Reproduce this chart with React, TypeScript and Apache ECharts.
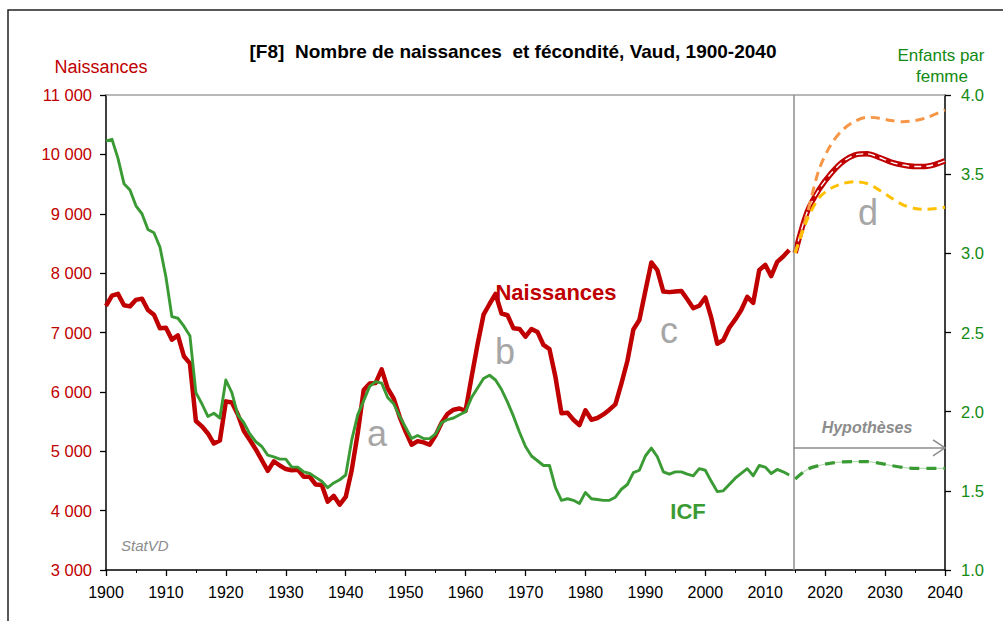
import React, { useEffect, useRef } from "react";
import * as echarts from "echarts";

const FIRST_YEAR = 1900;

// Naissances, Vaud, 1900-2014 (one value per year)
const births = [
  7450, 7620, 7650, 7460, 7440, 7550, 7570, 7380, 7300, 7070,
  7080, 6880, 6950, 6600, 6480, 5510, 5420, 5300, 5130, 5180,
  5840, 5820, 5620, 5340, 5190, 5030, 4850, 4670, 4830, 4760,
  4700, 4680, 4690, 4570, 4570, 4440, 4430, 4150, 4250, 4100,
  4230, 4680, 5300, 6030, 6140, 6150, 6380, 6060, 5890, 5580,
  5330, 5110, 5170, 5150, 5110, 5270, 5480, 5630, 5700, 5720,
  5680, 6250, 6800, 7300, 7480, 7650, 7320, 7290, 7070, 7060,
  6930, 7060, 7010, 6790, 6720, 6250, 5640, 5650, 5530, 5440,
  5690, 5530, 5560, 5620, 5700, 5790, 6140, 6520, 7050, 7210,
  7700, 8180, 8050, 7690, 7680, 7690, 7700, 7560, 7410, 7450,
  7590, 7250, 6810, 6870, 7080, 7220, 7380, 7600, 7500, 8050,
  8140, 7950, 8190, 8280, 8390,
];

// Indicateur conjoncturel de fécondité (enfants par femme), 1900-2014
const icf = [
  3.71, 3.72, 3.6, 3.44, 3.4, 3.3, 3.25, 3.15, 3.13, 3.04,
  2.85, 2.6, 2.59, 2.54, 2.48, 2.12, 2.05, 1.97, 1.99, 1.96,
  2.2, 2.12, 1.98, 1.93, 1.86, 1.81, 1.78, 1.725, 1.715, 1.7,
  1.7, 1.65, 1.65, 1.62, 1.61, 1.585, 1.56, 1.52, 1.55, 1.57,
  1.6, 1.82, 1.98, 2.07, 2.16, 2.19, 2.18, 2.09, 2.05, 1.97,
  1.9, 1.83, 1.85, 1.83, 1.83, 1.86, 1.93, 1.95, 1.96, 1.98,
  2.0, 2.09, 2.15, 2.21, 2.23, 2.2, 2.14, 2.06, 1.97, 1.87,
  1.78, 1.72, 1.69, 1.66, 1.66, 1.52, 1.44, 1.45, 1.44, 1.42,
  1.49, 1.45, 1.445, 1.44, 1.44, 1.46, 1.51, 1.54, 1.615, 1.63,
  1.72, 1.77, 1.715, 1.62, 1.605, 1.62, 1.62, 1.605, 1.595, 1.64,
  1.63, 1.56, 1.495, 1.5, 1.54, 1.58, 1.61, 1.64, 1.595, 1.66,
  1.65, 1.61, 1.635, 1.62, 1.6,
];

// Hypothèses 2015-2040
const projYears = [2015, 2017, 2019, 2021, 2023, 2025, 2027, 2029, 2031, 2033, 2035, 2037, 2040];
const birthsMid = [8340, 9030, 9410, 9680, 9880, 9990, 10010, 9950, 9870, 9820, 9795, 9800, 9890];
const birthsHigh = [8340, 9000, 9750, 10170, 10420, 10560, 10625, 10610, 10570, 10550, 10570, 10620, 10750];
const birthsLow = [8340, 8900, 9270, 9430, 9510, 9540, 9510, 9400, 9270, 9150, 9090, 9075, 9110];
const icfProj = [1.575, 1.635, 1.66, 1.675, 1.683, 1.685, 1.685, 1.675, 1.66, 1.648, 1.642, 1.642, 1.642];

const HYP_START = 2014.7;
const HYP_ARROW_LEVEL = 1.772;

const RED = "#C00000";
const GREEN_LINE = "#3A9A34";
const GREEN_TEXT = "#138A13";
const GREY_TEXT = "#A6A6A6";
const FONT = "'Liberation Sans', Arial, Helvetica, sans-serif";

const pairs = (xs: number[], ys: number[]) => ys.map((v, i) => [xs[i], v]);
const histPairs = (ys: number[]) => ys.map((v, i) => [FIRST_YEAR + i, v]);

const fmtThousands = (v: number) => String(v).replace(/\B(?=(\d{3})+(?!\d))/g, " ");

export default function App() {
  const ref = useRef<HTMLDivElement>(null);

  useEffect(() => {
    if (!ref.current) return;
    const chart = echarts.init(ref.current, undefined, { renderer: "svg" });

    const option: any = {
      animation: false,
      backgroundColor: "#ffffff",
      textStyle: { fontFamily: FONT },
      grid: { left: 106, right: 58, top: 95, bottom: 51, containLabel: false },
      xAxis: {
        type: "value",
        min: 1900,
        max: 2040,
        interval: 10,
        axisLine: { show: true, lineStyle: { color: "#000", width: 1.5 } },
        axisTick: { show: true, length: 6, lineStyle: { color: "#000", width: 1.3 } },
        minorTick: { show: true, splitNumber: 2, length: 3, lineStyle: { color: "#000", width: 1 } },
        splitLine: { show: false },
        axisLabel: { color: "#000", fontSize: 16, margin: 14, fontFamily: FONT, formatter: (v: number) => String(v) },
      },
      yAxis: [
        {
          type: "value",
          min: 3000,
          max: 11000,
          interval: 1000,
          position: "left",
          axisLine: { show: true, lineStyle: { color: "#000", width: 1.5 } },
          axisTick: { show: true, length: 6, lineStyle: { color: "#000", width: 1.3 } },
          splitLine: { show: false },
          axisLabel: { color: RED, fontSize: 16.5, margin: 14, fontFamily: FONT, formatter: (v: number) => fmtThousands(v) },
        },
        {
          type: "value",
          min: 1.0,
          max: 4.0,
          interval: 0.5,
          position: "right",
          axisLine: { show: true, lineStyle: { color: "#000", width: 1.5 } },
          axisTick: { show: true, length: 6, lineStyle: { color: "#000", width: 1.3 } },
          splitLine: { show: false },
          axisLabel: { color: GREEN_TEXT, fontSize: 16.5, margin: 16, fontFamily: FONT, formatter: (v: number) => v.toFixed(1) },
        },
      ],
      series: [
        {
          name: "Naissances",
          type: "line",
          yAxisIndex: 0,
          data: histPairs(births),
          showSymbol: false,
          lineStyle: { color: RED, width: 4.5, join: "round" },
          z: 3,
          markLine: {
            silent: true,
            symbol: ["none", "none"],
            label: { show: false },
            lineStyle: { color: "#8C8C8C", width: 1.5, type: "solid" },
            data: [{ xAxis: HYP_START }],
          },
        },
        {
          name: "ICF",
          type: "line",
          yAxisIndex: 1,
          data: histPairs(icf),
          showSymbol: false,
          lineStyle: { color: GREEN_LINE, width: 2.9, join: "round" },
          z: 4,
          markLine: {
            silent: true,
            symbol: ["none", "none"],
            label: { show: false },
            lineStyle: { color: "#8C8C8C", width: 1.5, type: "solid" },
            data: [[{ coord: [HYP_START, HYP_ARROW_LEVEL] }, { coord: [2040, HYP_ARROW_LEVEL] }]],
          },
        },
        {
          name: "Naissances moyen",
          type: "line",
          yAxisIndex: 0,
          data: pairs(projYears, birthsMid),
          smooth: 0.3,
          showSymbol: false,
          lineStyle: { color: RED, width: 5.5 },
          z: 3,
        },
        {
          name: "Naissances moyen (centre)",
          type: "line",
          yAxisIndex: 0,
          data: pairs(projYears, birthsMid),
          smooth: 0.3,
          showSymbol: false,
          lineStyle: { color: "#ffffff", width: 1.4, type: [7, 5] },
          z: 4,
        },
        {
          name: "Naissances haut",
          type: "line",
          yAxisIndex: 0,
          data: pairs(projYears, birthsHigh),
          smooth: 0.3,
          showSymbol: false,
          lineStyle: { color: "#F79646", width: 3, type: [9, 6] },
          z: 5,
        },
        {
          name: "Naissances bas",
          type: "line",
          yAxisIndex: 0,
          data: pairs(projYears, birthsLow),
          smooth: 0.3,
          showSymbol: false,
          lineStyle: { color: "#FFC000", width: 3, type: [9, 6] },
          z: 5,
        },
        {
          name: "ICF hypothèse (fond)",
          type: "line",
          yAxisIndex: 1,
          data: pairs(projYears, icfProj),
          smooth: 0.3,
          showSymbol: false,
          lineStyle: { color: "#B9DDB2", width: 1.2 },
          z: 4,
        },
        {
          name: "ICF hypothèse",
          type: "line",
          yAxisIndex: 1,
          data: pairs(projYears, icfProj),
          smooth: 0.3,
          showSymbol: false,
          lineStyle: { color: GREEN_LINE, width: 3.2, type: [10, 7] },
          z: 5,
        },
      ],
    };

    chart.setOption(option);

    const tip = chart.convertToPixel({ xAxisIndex: 0, yAxisIndex: 1 } as any, [2040, HYP_ARROW_LEVEL]) as number[];
    const ax = tip ? tip[0] : 945;
    const ay = tip ? tip[1] : 447;

    const txt = (text: string, x: number, y: number, font: string, fill: string, align = "center") => ({
      type: "text",
      x,
      y,
      silent: true,
      z: 100,
      style: { text, font, fill, textAlign: align, textVerticalAlign: "middle", align, verticalAlign: "middle" },
    });

    chart.setOption({
      graphic: [
        {
          type: "rect",
          shape: { x: 8, y: 10, width: 1100, height: 700 },
          style: { fill: "none", stroke: "#222", lineWidth: 1.5 },
          silent: true,
          z: 0,
        },
        {
          type: "line",
          shape: { x1: 106, y1: 95, x2: 945, y2: 95 },
          style: { stroke: "#A0A0A0", lineWidth: 1.5 },
          silent: true,
          z: 1,
        },
        {
          type: "polyline",
          shape: { points: [[ax - 12, ay - 8], [ax, ay], [ax - 12, ay + 8]] },
          style: { stroke: "#8C8C8C", lineWidth: 1.5, fill: "none" },
          silent: true,
          z: 100,
        },
        txt("[F8]  Nombre de naissances  et fécondité, Vaud, 1900-2040", 513, 51, `bold 19px ${FONT}`, "#000"),
        txt("Naissances", 101, 67, `18px ${FONT}`, RED),
        txt("Enfants par", 941, 55, `17px ${FONT}`, GREEN_TEXT),
        txt("femme", 942, 76, `17px ${FONT}`, GREEN_TEXT),
        txt("Naissances", 556, 292, `bold 22px ${FONT}`, RED),
        txt("ICF", 688, 511, `bold 22px ${FONT}`, GREEN_LINE),
        txt("a", 377, 433, `36px ${FONT}`, GREY_TEXT),
        txt("b", 505, 351, `36px ${FONT}`, GREY_TEXT),
        txt("c", 669, 330, `36px ${FONT}`, GREY_TEXT),
        txt("d", 868, 212, `36px ${FONT}`, GREY_TEXT),
        txt("StatVD", 121, 545, `italic 15px ${FONT}`, "#8C8C8C", "left"),
        txt("Hypothèses", 867, 427, `italic bold 16px ${FONT}`, "#8C8C8C"),
      ],
    });

    return () => chart.dispose();
  }, []);

  return (
    <div
      ref={ref}
      style={{ position: "fixed", left: 0, top: 0, width: 1003, height: 621, background: "#fff" }}
    />
  );
}
